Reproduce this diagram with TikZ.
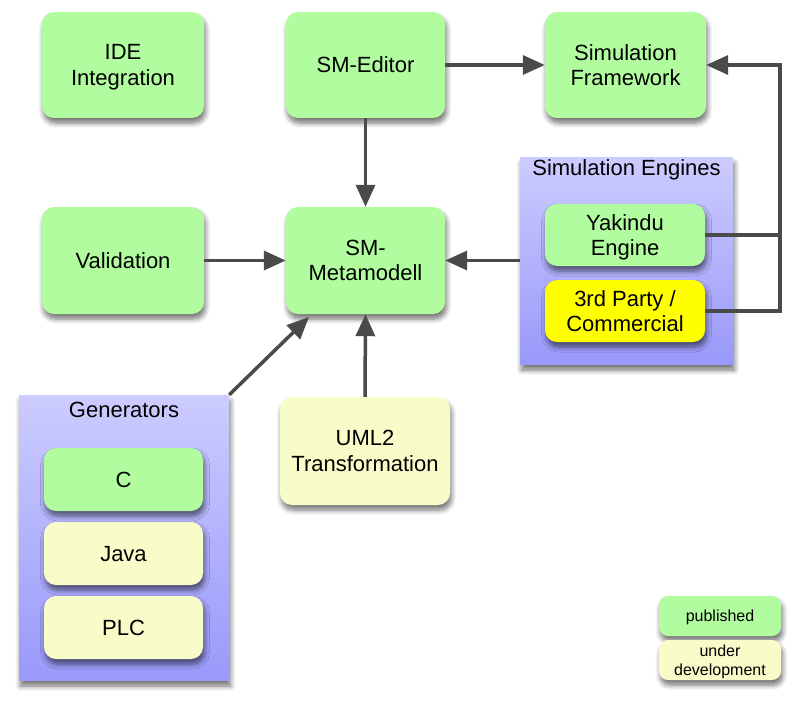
\documentclass[tikz,border=0pt]{standalone}
\usepackage{fontspec}
\setmainfont{Liberation Sans}
\usetikzlibrary{arrows.meta,shadows.blur}
\definecolor{pubgreen}{HTML}{B0FC9E}
\definecolor{devyellow}{HTML}{F8FCC8}
\definecolor{brightyellow}{HTML}{FFFF00}
\definecolor{grptop}{HTML}{CCCCFF}
\definecolor{grpbot}{HTML}{9999FA}
\definecolor{conncol}{HTML}{4A4A4A}
\tikzset{
  box/.style={rounded corners=12pt, draw=none, align=center,
    font=\fontsize{22}{25.5}\selectfont, inner sep=0pt, text depth=0pt,
    blur shadow={shadow xshift=1.5pt, shadow yshift=-5pt, shadow blur steps=6, shadow blur radius=5pt, shadow opacity=55}},
  pub/.style={box, fill=pubgreen},
  dev/.style={box, fill=devyellow},
  grp/.style={draw=none, top color=grptop, bottom color=grpbot,
    blur shadow={shadow xshift=1.5pt, shadow yshift=-6pt, shadow blur steps=6, shadow blur radius=5pt, shadow opacity=55}},
  grptitle/.style={font=\fontsize{22}{25}\selectfont, inner sep=0pt},
  legbox/.style={box, font=\fontsize{16}{19}\selectfont, rounded corners=9pt},
  conn/.style={draw=conncol, line width=3.5pt},
  arr/.style={conn, -{Triangle[length=22pt,width=19pt]}, shorten >=0pt},
}
\begin{document}
\begin{tikzpicture}[x=1pt,y=-1pt]
\useasboundingbox (0,0) rectangle (800,706);
% groups
\node[grp, minimum width=213pt, minimum height=207pt] (eng) at (626.5,260.5) {};
\node[grptitle] (engt) at (626.5,170) {Simulation Engines};
\node[grp, minimum width=210pt, minimum height=285pt] (gen) at (124,537.5) {};
\node[grptitle] (gent) at (124,410) {Generators};
% main boxes
\node[pub, minimum width=162pt, minimum height=106pt] (ide) at (123,65) {IDE\\Integration};
\node[pub, minimum width=159pt, minimum height=106pt] (ed) at (365.5,65) {SM-Editor};
\node[pub, minimum width=161pt, minimum height=106pt] (sf) at (625.5,65) {Simulation\\Framework};
\node[pub, minimum width=162pt, minimum height=107pt] (val) at (123,260.5) {Validation};
\node[pub, minimum width=159pt, minimum height=107pt] (mm) at (365.5,260.5) {SM-\\Metamodell};
\node[dev, minimum width=170pt, minimum height=108pt] (uml) at (365,451) {UML2\\Transformation};
% engines
\node[pub, minimum width=160pt, minimum height=62pt] (yak) at (625,235) {Yakindu\\Engine};
\node[box, fill=brightyellow, minimum width=160pt, minimum height=62pt] (tp) at (625,311) {3rd Party /\\Commercial};
% generators
\node[pub, minimum width=159pt, minimum height=63pt] (c) at (123.5,479.5) {C};
\node[dev, minimum width=159pt, minimum height=63pt] (java) at (123.5,553.5) {Java};
\node[dev, minimum width=159pt, minimum height=63pt] (plc) at (123.5,627.5) {PLC};
% legend
\node[legbox, fill=pubgreen, minimum width=122pt, minimum height=40pt] (lp) at (720,616) {published};
\node[legbox, fill=devyellow, minimum width=122pt, minimum height=40pt] (ld) at (720,660) {under\\development};
% connectors
\coordinate (j0) at (780,65);
\coordinate (j1) at (780,235);
\coordinate (j2) at (780,311);
\coordinate (mmtip) at (309,317);
\draw[arr] (ed.east) -- (sf.west);
\draw[arr] (ed.south) -- (mm.north);
\draw[arr] (val.east) -- (mm.west);
\draw[arr] (eng.west |- mm.east) -- (mm.east);
\draw[arr] (uml.north) -- (mm.south);
\draw[arr] (gen.north east) -- (mmtip);
\draw[conn] (yak.east) -- (j1);
\draw[arr] (tp.east) -- (j2) -- (j0) -- (sf.east);
\end{tikzpicture}
\end{document}
